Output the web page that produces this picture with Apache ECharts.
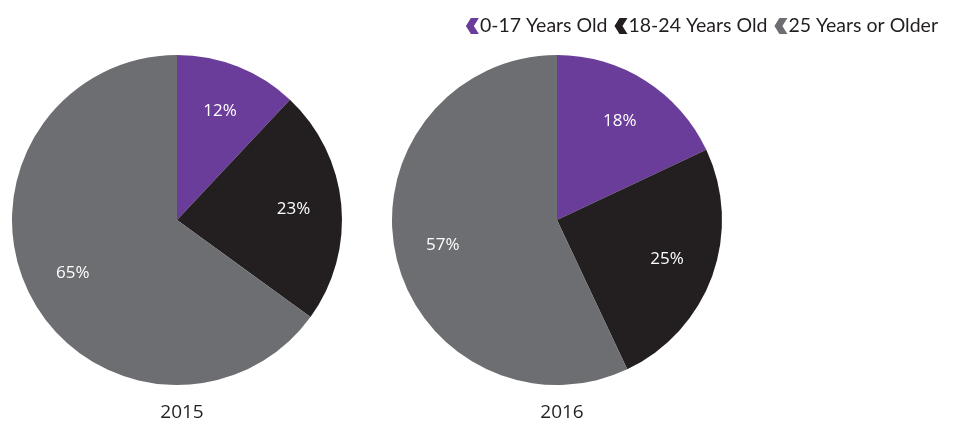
<!DOCTYPE html>
<html>
<head>
<meta charset="utf-8">
<script src="https://cdn.jsdelivr.net/npm/echarts@6/dist/echarts.min.js"></script>
<style>
  html, body { margin: 0; padding: 0; background: #fff; }
  #chart { width: 959px; height: 424px; }
</style>
</head>
<body>
<div id="chart"></div>
<script>
  // age groups and shares per year
  var groups = ['0-17 Years Old', '18-24 Years Old', '25 Years or Older'];
  var colors = ['#6a3d9a', '#231f20', '#6d6e71'];
  var years = ['2015', '2016'];
  var share2015 = [12, 23, 65];
  var share2016 = [18, 25, 57];

  var centersX = [177, 557];
  var chevron = 'path://M5,0 L13,0 L8,8 L13,16 L5,16 L0,8 Z';

  function toData(vals) {
    return groups.map(function (g, i) {
      return { name: g, value: vals[i], itemStyle: { color: colors[i] } };
    });
  }

  var series = [];
  [share2015, share2016].forEach(function (vals, k) {
    // visible pie
    series.push({
      type: 'pie',
      center: [centersX[k], 220],
      radius: 165,
      startAngle: 90,
      silent: true,
      label: { show: false },
      labelLine: { show: false },
      itemStyle: { borderWidth: 0 },
      data: toData(vals)
    });
    // transparent pie only used to push the labels outward
    series.push({
      type: 'pie',
      center: [centersX[k], 220],
      radius: 228,
      startAngle: 90,
      silent: true,
      itemStyle: { color: 'rgba(0,0,0,0)', borderWidth: 0 },
      label: {
        show: true,
        position: 'inside',
        formatter: '{c}%',
        color: '#ffffff',
        fontFamily: 'Open Sans',
        fontSize: 17
      },
      labelLine: { show: false },
      data: groups.map(function (g, i) {
        return { name: g + ' ', value: vals[i] };
      })
    });
  });

  var myChart = echarts.init(document.getElementById('chart'));
  var option = {
    animation: false,
    title: years.map(function (y, k) {
      return {
        text: y,
        left: centersX[k],
        top: 398,
        textAlign: 'center',
        textStyle: { fontFamily: 'Open Sans', fontSize: 19, fontWeight: 'normal', color: '#231f20' }
      };
    }),
    legend: {
      data: groups,
      right: 16,
      top: 11,
      icon: chevron,
      itemWidth: 13,
      itemHeight: 17,
      itemGap: 7,
      selectedMode: false,
      textStyle: { fontFamily: 'Lato', fontSize: 19.5, color: '#231f20', padding: [0, 0, 0, -4] }
    },
    series: series
  };
  myChart.setOption(option);
</script>
</body>
</html>
